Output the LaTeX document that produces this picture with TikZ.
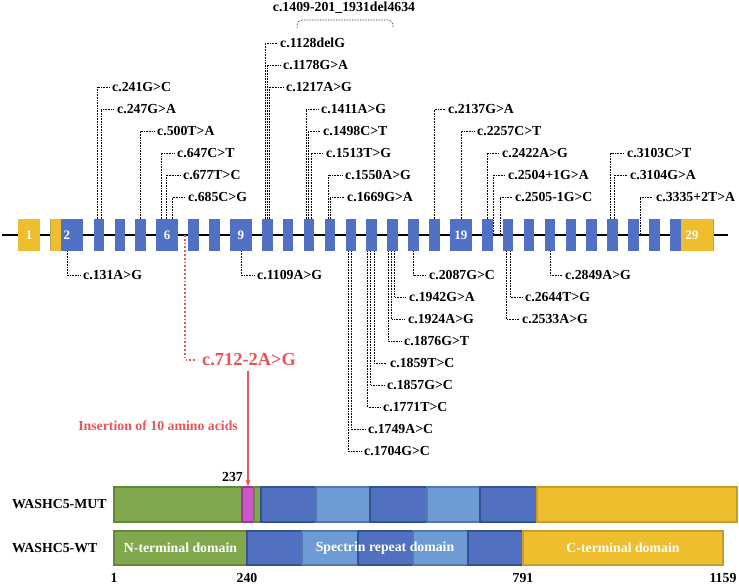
\documentclass[tikz,border=0pt]{standalone}
\usepackage{fontspec}
\setmainfont{Liberation Serif}
\usetikzlibrary{positioning, calc}

\definecolor{exonblue}{RGB}{80,113,196}
\definecolor{exonyellow}{RGB}{239,190,46}
\definecolor{ngreen}{RGB}{130,168,78}
\definecolor{ngreendk}{RGB}{98,136,58}
\definecolor{inspink}{RGB}{204,85,204}
\definecolor{inspinkdk}{RGB}{150,60,150}
\definecolor{spdark}{RGB}{81,113,192}
\definecolor{spdarkdk}{RGB}{50,82,146}
\definecolor{splight}{RGB}{110,155,211}
\definecolor{splightdk}{RGB}{82,122,178}
\definecolor{cyellow}{RGB}{239,190,46}
\definecolor{cyellowdk}{RGB}{200,158,40}
\definecolor{mutred}{RGB}{233,84,86}

\newcommand{\labfont}{\fontsize{13.8pt}{16pt}\selectfont\bfseries}
\newcommand{\numfont}{\fontsize{13pt}{15pt}\selectfont\bfseries}
\newcommand{\splicefont}{\fontsize{18.4pt}{21pt}\selectfont\bfseries}

\begin{document}
\begin{tikzpicture}[x=1pt, y=-1pt,
% Define custom styles for exons, variants and domains
    exon/.style={
        fill=exonblue,
        minimum width=10.6pt,
        minimum height=32pt,
        inner sep=0pt,
        outer sep=0pt,
        text=white,
        font=\numfont
        },
    bigexon/.style={exon, minimum width=21.6pt},
    utrleft/.style={path picture={\fill[exonyellow] (path picture bounding box.south west) rectangle ([xshift=11pt]path picture bounding box.north west);}},
    utrright/.style={path picture={\fill[exonyellow] ([xshift=10.6pt]path picture bounding box.south west) rectangle (path picture bounding box.north east);}},
    mut/.style={anchor=west, inner xsep=3pt, inner ysep=0pt, font=\labfont},
    mline/.style={densely dotted, line width=0.6pt},
    dom/.style={
        draw,
        line width=1.5pt,
        minimum height=35pt,
        inner sep=0pt,
        outer sep=0pt,
        text=white,
        font=\labfont
        },
    num/.style={inner sep=0pt, font=\labfont}
]
\useasboundingbox (0,0) rectangle (739,584);

% gene backbone
\coordinate (bl) at (2,235);
\coordinate (br) at (728,235);
\draw[line width=2.2pt] (bl) -- (br);

\node[exon, fill=exonyellow, minimum width=22pt] (e1) at (29,235) {1};
\node[exon, utrleft, minimum width=33pt, right=10.3pt of e1] (e2) {2};
\node[exon, right=10.3pt of e2] (e3) {};
\node[exon, right=10.3pt of e3] (e4) {};
\node[exon, right=10.3pt of e4] (e5) {};
\node[bigexon, right=10.3pt of e5] (e6) {6};
\node[exon, right=10.3pt of e6] (e7) {};
\node[exon, right=10.3pt of e7] (e8) {};
\node[bigexon, right=10.3pt of e8] (e9) {9};
\node[exon, right=10.3pt of e9] (e10) {};
\node[exon, right=10.3pt of e10] (e11) {};
\node[exon, right=10.3pt of e11] (e12) {};
\node[exon, right=10.3pt of e12] (e13) {};
\node[exon, right=10.3pt of e13] (e14) {};
\node[exon, right=10.3pt of e14] (e15) {};
\node[exon, right=10.3pt of e15] (e16) {};
\node[exon, right=10.3pt of e16] (e17) {};
\node[exon, right=10.3pt of e17] (e18) {};
\node[bigexon, right=10.3pt of e18] (e19) {19};
\node[exon, right=10.3pt of e19] (e20) {};
\node[exon, right=10.3pt of e20] (e21) {};
\node[exon, right=10.3pt of e21] (e22) {};
\node[exon, right=10.3pt of e22] (e23) {};
\node[exon, right=10.3pt of e23] (e24) {};
\node[exon, right=10.3pt of e24] (e25) {};
\node[exon, right=10.3pt of e25] (e26) {};
\node[exon, right=10.3pt of e26] (e27) {};
\node[exon, right=10.3pt of e27] (e28) {};
\node[exon, utrright, minimum width=43.6pt, right=10.3pt of e28] (e29) {29};

% variants above the gene
\node[mut] (c241) at (109,87) {c.241G>C};
\node[mut] (c247) at (114,109) {c.247G>A};
\node[mut] (c500) at (154,131) {c.500T>A};
\node[mut] (c647) at (174,153) {c.647C>T};
\node[mut] (c677) at (180,175) {c.677T>C};
\node[mut] (c685) at (185,197) {c.685C>G};
\node[mut] (c1128) at (277,43) {c.1128delG};
\node[mut] (c1178) at (280,65) {c.1178G>A};
\node[mut] (c1217) at (283,87) {c.1217A>G};
\node[mut] (c1411) at (318,109) {c.1411A>G};
\node[mut] (c1498) at (320,131) {c.1498C>T};
\node[mut] (c1513) at (323,153) {c.1513T>G};
\node[mut] (c1550) at (342,175) {c.1550A>G};
\node[mut] (c1669) at (344,197) {c.1669G>A};
\node[mut] (c2137) at (445,109) {c.2137G>A};
\node[mut] (c2257) at (474,131) {c.2257C>T};
\node[mut] (c2422) at (499,153) {c.2422A>G};
\node[mut] (c2504) at (505,175) {c.2504+1G>A};
\node[mut] (c2505) at (512,197) {c.2505-1G>C};
\node[mut] (c3103) at (624,153) {c.3103C>T};
\node[mut] (c3104) at (627,175) {c.3104G>A};
\node[mut] (c3335) at (653,197) {c.3335+2T>A};

\draw[mline] ($(e3.north)+(-2,0)$) |- (c241);
\draw[mline] ($(e3.north)+(2,0)$) |- (c247);
\draw[mline] (e5.north) |- (c500);
\draw[mline] ($(e6.north)+(-6,0)$) |- (c647);
\draw[mline] ($(e6.north)+(-1,0)$) |- (c677);
\draw[mline] ($(e6.north)+(5,0)$) |- (c685);
\draw[mline] ($(e10.north)+(-2,0)$) |- (c1128);
\draw[mline] (e10.north) |- (c1178);
\draw[mline] ($(e10.north)+(2,0)$) |- (c1217);
\draw[mline] ($(e12.north)+(-3,0)$) |- (c1411);
\draw[mline] ($(e12.north)+(-1,0)$) |- (c1498);
\draw[mline] ($(e12.north)+(2,0)$) |- (c1513);
\draw[mline] ($(e13.north)+(-2,0)$) |- (c1550);
\draw[mline] (e13.north) |- (c1669);
\draw[mline] (e18.north) |- (c2137);
\draw[mline] (e19.north) |- (c2257);
\draw[mline] (e20.north) |- (c2422);
\draw[mline] ($(e20.east)+(1,0)$) |- (c2504);
\draw[mline] ($(e21.west)+(-3,0)$) |- (c2505);
\draw[mline] ($(e26.north)+(-2,0)$) |- (c3103);
\draw[mline] ($(e26.north)+(1.5,0)$) |- (c3104);
\draw[mline] ($(e27.east)+(1,0)$) |- (c3335);

% large deletion
\node[font=\labfont, inner sep=0pt] (del) at (344,8) {c.1409-201\_1931del4634};
\coordinate (dl) at (297,28);
\coordinate (dr) at (393,28);
\draw[mline, rounded corners=5pt] (dl) -- ++(0,-8) -| (dr);

% variants below the gene
\node[mut] (c131) at (80,275) {c.131A>G};
\node[mut] (c1109) at (254,275) {c.1109A>G};
\node[mut] (c2087) at (426,275) {c.2087G>C};
\node[mut] (c2849) at (562,275) {c.2849A>G};
\node[mut] (c1942) at (406,297) {c.1942G>A};
\node[mut] (c2644) at (522,297) {c.2644T>G};
\node[mut] (c1924) at (405,319) {c.1924A>G};
\node[mut] (c2533) at (519,319) {c.2533A>G};
\node[mut] (c1876) at (401,341) {c.1876G>T};
\node[mut] (c1859) at (387,363) {c.1859T>C};
\node[mut] (c1857) at (384,385) {c.1857G>C};
\node[mut] (c1771) at (380,407) {c.1771T>C};
\node[mut] (c1749) at (365,429) {c.1749A>C};
\node[mut] (c1704) at (361,451) {c.1704G>C};

\draw[mline] (e2.south) |- (c131);
\draw[mline] (e9.south) |- (c1109);
\draw[mline] (e17.south) |- (c2087);
\draw[mline] (e23.south) |- (c2849);
\draw[mline] ($(e16.south)+(2,0)$) |- (c1942);
\draw[mline] ($(e16.south)+(-1,0)$) |- (c1924);
\draw[mline] ($(e16.south)+(-4.5,0)$) |- (c1876);
\draw[mline] ($(e15.south)+(2.5,0)$) |- (c1859);
\draw[mline] ($(e15.south)+(-1,0)$) |- (c1857);
\draw[mline] ($(e15.south)+(-4,0)$) |- (c1771);
\draw[mline] (e14.south) |- (c1749);
\draw[mline] ($(e14.south)+(-3,0)$) |- (c1704);
\draw[mline] ($(e21.south)+(2,0)$) |- (c2644);
\draw[mline] ($(e21.south)+(-2,0)$) |- (c2533);

% protein, mutant
\node[font=\labfont, anchor=west, inner sep=0pt] (mutname) at (12,504.5) {WASHC5-MUT};
\node[dom, fill=ngreen, draw=ngreendk, minimum width=128pt] (pm1) at (178,504.5) {};
\node[dom, fill=inspink, draw=inspinkdk, minimum width=12pt, right=0pt of pm1] (pm2) {};
\node[dom, fill=ngreen, draw=ngreendk, minimum width=7pt, right=0pt of pm2] (pm3) {};
\node[dom, fill=spdark, draw=spdarkdk, minimum width=55pt, right=0pt of pm3] (pm4) {};
\node[dom, fill=splight, draw=splightdk, minimum width=54pt, right=0pt of pm4] (pm5) {};
\node[dom, fill=spdark, draw=spdarkdk, minimum width=57pt, right=0pt of pm5] (pm6) {};
\node[dom, fill=splight, draw=splightdk, minimum width=53pt, right=0pt of pm6] (pm7) {};
\node[dom, fill=spdark, draw=spdarkdk, minimum width=57pt, right=0pt of pm7] (pm8) {};
\node[dom, fill=cyellow, draw=cyellowdk, minimum width=200pt, right=0pt of pm8] (pm9) {};

% protein, wild type
\node[font=\labfont, anchor=west, inner sep=0pt] (wtname) at (12,548) {WASHC5-WT};
\node[dom, fill=ngreen, draw=ngreendk, minimum width=133pt, minimum height=34pt] (pw1) at (180.5,548) {N-terminal domain};
\node[dom, fill=spdark, draw=spdarkdk, minimum width=55pt, minimum height=34pt, right=0pt of pw1] (pw2) {};
\node[dom, fill=splight, draw=splightdk, minimum width=56pt, minimum height=34pt, right=0pt of pw2] (pw3) {};
\node[dom, fill=spdark, draw=spdarkdk, minimum width=55pt, minimum height=34pt, right=0pt of pw3] (pw4) {};
\node[dom, fill=splight, draw=splightdk, minimum width=55pt, minimum height=34pt, right=0pt of pw4] (pw5) {};
\node[dom, fill=spdark, draw=spdarkdk, minimum width=55pt, minimum height=34pt, right=0pt of pw5] (pw6) {};
\node[dom, fill=cyellow, draw=cyellowdk, minimum width=200pt, minimum height=34pt, right=0pt of pw6] (pw7) {C-terminal domain};
\node[text=white, font=\labfont] (spec) at ($(pw2.west)!0.5!(pw6.east)$) {Spectrin repeat domain};

\node[num, below=8pt of pw1.south west] (n1) {1};
\node[num, below=8pt of pw1.south east] (n240) {240};
\node[num, below=8pt of pw7.south west] (n791) {791};
\node[num, below=8pt of pw7.south east] (n1159) {1159};

% splice variant
\node[font=\splicefont, text=mutred, anchor=west, inner sep=5pt] (splice) at (197,360) {c.712-2A>G};
\draw[draw=mutred, dotted, line width=1.8pt] ($(e7.west)+(-3,0)$) |- (splice);
\draw[->, >=latex, draw=mutred, line width=1.3pt] (pm2.north |- splice.south) -- (pm2.north);
\node[font=\labfont, text=mutred, anchor=east, inner sep=0pt] (ins) at (238,426) {Insertion of 10 amino acids};
\node[num, anchor=east] (n237) at (243,477) {237};

\end{tikzpicture}
\end{document}
